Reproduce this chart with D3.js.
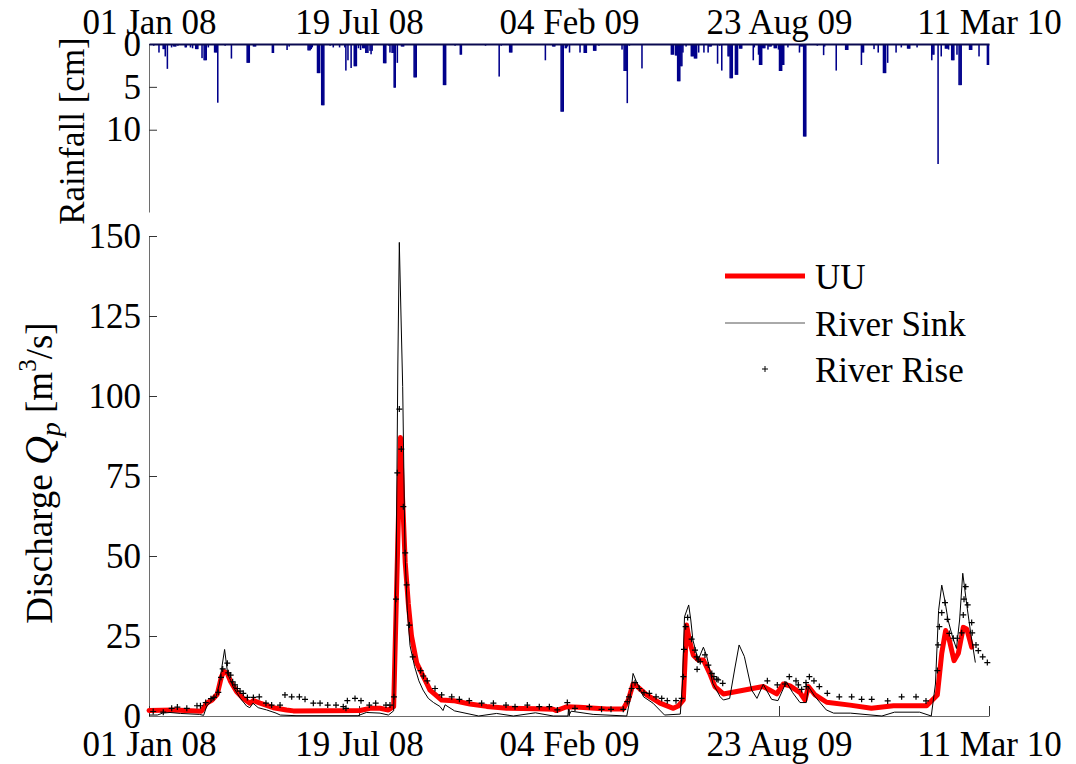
<!DOCTYPE html>
<html>
<head>
<meta charset="utf-8">
<script src="https://cdn.jsdelivr.net/npm/d3@7"></script>
<style>
  body { margin: 0; background: #fff; }
  svg { display: block; font-family: 'Liberation Serif', 'Times New Roman', serif; }
</style>
</head>
<body>
<div id="chart"></div>
<script>
// days counted from 01 Jan 2008
var tickDays = [0, 200, 400, 600, 800]
var rainTicks = [0, 5, 10]
var flowTicks = [0, 25, 50, 75, 100, 125, 150]
var legendLabels = ['UU', 'River Sink', 'River Rise']

// [day, rainfall cm]
var rainfall = [
  [4, 0.2], [9, 1.0], [13, 0.6], [14, 0.6], [15, 1.45], [17, 2.9], [21, 0.4], [23, 0.3], [24, 0.3], [25, 0.3],
  [27, 0.2], [34, 0.4], [35, 0.4], [39, 0.4], [41, 0.5], [44, 0.6], [45, 0.6], [46, 0.6], [50, 1.65], [52, 1.9],
  [53, 1.9], [54, 1.9], [56, 0.4], [62, 1.0], [63, 1.0], [64, 1.0], [65, 6.85], [72, 0.2], [78, 1.7], [88, 0.1],
  [93, 2.2], [94, 2.2], [95, 2.2], [99, 0.3], [100, 0.3], [101, 0.3], [117, 1.05], [118, 1.05], [131, 0.7], [133, 0.3],
  [151, 0.75], [152, 0.75], [153, 0.75], [154, 0.6], [155, 0.4], [160, 3.4], [161, 3.4], [162, 3.4], [164, 7.15], [165, 7.15],
  [166, 7.15], [172, 0.2], [175, 0.4], [181, 0.4], [186, 0.4], [187, 3.1], [189, 1.9], [192, 2.8], [195, 2.6], [196, 2.6],
  [197, 2.6], [199, 0.5], [201, 0.7], [203, 0.5], [204, 0.5], [205, 0.5], [206, 1.05], [207, 1.05], [208, 1.05], [210, 0.8],
  [211, 1.2], [212, 0.8], [223, 2.25], [224, 2.25], [225, 2.25], [228, 0.2], [229, 1.0], [231, 1.05], [232, 1.05], [233, 5.1],
  [234, 5.1], [236, 2.2], [240, 0.3], [241, 0.3], [242, 0.3], [252, 3.9], [253, 3.9], [254, 3.9], [280, 4.8], [281, 4.8],
  [282, 4.8], [291, 0.2], [296, 1.25], [297, 1.25], [320, 0.2], [333, 3.8], [335, 0.2], [343, 1.0], [344, 1.0], [345, 1.0],
  [377, 1.9], [384, 0.3], [385, 0.3], [386, 0.3], [392, 7.9], [393, 7.9], [394, 7.9], [396, 0.5], [397, 0.5], [398, 0.3],
  [400, 1.0], [410, 1.0], [414, 1.05], [415, 1.05], [416, 1.05], [423, 0.8], [424, 0.8], [425, 0.8], [428, 0.2], [450, 0.65],
  [452, 3.15], [453, 3.15], [454, 3.15], [455, 6.9], [457, 0.2], [469, 2.85], [478, 0.1], [497, 1.25], [498, 1.25], [499, 1.25],
  [501, 1.35], [502, 1.35], [503, 4.35], [504, 4.35], [505, 4.35], [506, 2.6], [507, 2.6], [508, 1.0], [511, 0.3], [516, 1.45],
  [517, 1.45], [518, 1.45], [519, 1.7], [520, 1.7], [521, 1.7], [523, 1.0], [528, 1.0], [532, 1.0], [533, 0.3], [534, 0.3],
  [535, 0.3], [541, 2.3], [543, 0.2], [545, 3.1], [551, 1.45], [552, 1.45], [553, 4.0], [554, 4.0], [555, 4.0], [558, 3.6],
  [559, 3.6], [560, 3.6], [562, 0.55], [563, 0.55], [564, 0.55], [575, 1.9], [576, 0.4], [580, 1.25], [581, 2.45], [582, 2.45],
  [583, 2.45], [584, 0.5], [585, 0.5], [586, 0.5], [589, 0.65], [590, 0.3], [591, 0.3], [592, 0.3], [595, 0.5], [596, 0.5],
  [597, 0.5], [599, 0.65], [600, 3.15], [601, 3.15], [602, 3.15], [603, 2.45], [604, 2.45], [608, 0.4], [619, 1.0], [620, 0.3],
  [621, 0.3], [622, 0.3], [623, 10.8], [624, 10.8], [625, 10.8], [636, 0.2], [642, 1.3], [643, 0.3], [654, 3.1], [663, 0.7],
  [664, 0.7], [665, 0.7], [678, 2.45], [679, 1.0], [680, 1.0], [690, 0.6], [694, 1.0], [699, 3.4], [700, 3.4], [701, 3.4],
  [703, 2.2], [711, 1.0], [716, 0.4], [722, 0.55], [723, 0.55], [724, 0.55], [731, 0.4], [745, 1.9], [746, 1.25], [747, 1.25],
  [751, 14.0], [754, 1.45], [758, 0.55], [759, 0.55], [760, 0.55], [761, 0.65], [764, 1.9], [765, 1.9], [766, 1.9], [769, 1.25],
  [771, 4.8], [772, 4.8], [773, 4.8], [781, 0.7], [782, 0.7], [783, 0.7], [790, 1.45], [798, 2.45], [799, 2.45]
]

// [day, discharge m3/s]
var riverSink = [
  [0, 0.3], [8, 0.3], [13, 0.9], [20, 1.1], [30, 0.8], [48, 0.5], [52, 0.2], [55, 3.1], [60, 4.8], [64, 6.2],
  [67, 10], [69, 14.4], [72, 20.8], [75, 13], [78, 11], [80, 9.2], [87, 5.5], [93, 3.1], [96, 2.6], [99, 4.0],
  [104, 2.6], [112, 1.9], [121, 0.9], [125, 0.3], [140, 0.1], [199, 0.1], [207, 1.1], [220, 0.9], [228, 0.3], [233, 1.6],
  [235.5, 50], [237, 110], [238.4, 148], [240, 125], [241.6, 103], [243.8, 51], [246, 33], [248.6, 22], [253, 15.4], [257, 11],
  [261, 8.1], [266, 5.5], [271, 4.2], [277, 3.0], [280, 1.7], [282, 3.5], [291, 1.6], [314, 0], [331, 0.8], [347, 0],
  [368, 1.0], [385, 0], [399, 0], [399.5, 2.2], [400, 0.2], [402, 1.5], [423, 0.5], [455, 0], [458, 5], [461, 13.3],
  [464, 10.9], [471, 6], [480, 4], [491, 0.3], [506, 0.6], [508, 10], [510, 31], [514, 34.7], [516, 30], [518, 23.75],
  [523, 17.5], [528, 21.5], [531, 18.9], [537, 10.2], [544, 6], [547, 5], [553, 5.5], [558, 15], [562, 22.2], [567, 18.6],
  [574, 8.1], [579, 5.5], [585, 9.9], [593, 5.2], [599, 4.8], [607, 10.7], [613, 7.3], [620, 4.2], [626, 4.2], [628, 9.2],
  [634, 6.2], [645, 1.9], [652, 0.9], [668, 0.9], [698, 0], [710, 1.2], [734, 1.2], [745, 0], [749, 10], [752, 33],
  [755, 40.9], [758, 36], [761, 30], [765, 25], [769, 21.1], [772, 30], [775, 44.6], [779, 34.3], [783, 25], [787, 16.7]
]

var uu = [
  [0, 1.7], [24, 1.9], [50, 1.5], [55, 4], [60, 5], [65, 6.8], [69, 12.3], [71.4, 13.9], [74.6, 13.3], [77.8, 10.7],
  [83.5, 7.6], [89.8, 5.5], [96, 4], [99.5, 4.8], [105.8, 4], [118.4, 2.6], [131, 1.9], [137.5, 1.6], [201, 1.7], [210.5, 2.4],
  [220, 2.4], [228, 1.9], [233, 2.9], [237, 55], [239.5, 87], [241.5, 68], [244, 48], [247, 35], [250, 25], [255, 16.5],
  [264.5, 10.2], [267.6, 8.1], [278.7, 5], [289.8, 4.8], [305.7, 3.75], [321.6, 3.0], [340.7, 2.4], [369, 2.3], [385, 2.1], [388, 1.7],
  [397.8, 2.9], [410, 2.7], [436, 2.2], [451.7, 2.2], [456.5, 5], [461, 10], [464, 9.5], [474, 6.6], [486.7, 4], [499.4, 2.4],
  [504, 3.1], [508.9, 5], [512, 28.4], [514.6, 23.75], [518.4, 19], [523, 17.5], [528, 17.5], [534, 13.3], [539, 9.2], [547, 6.9],
  [585, 9.2], [597.8, 6.9], [604, 10], [610.5, 9.4], [620, 7.3], [624.8, 5], [628, 9.2], [634, 6.7], [645.4, 4.3], [667.6, 3.4],
  [688, 2.4], [709, 3.2], [740.6, 3.2], [750.8, 6.6], [755, 19.6], [758.7, 26.7], [762.2, 23.75], [766.7, 17.3], [770.8, 19.6], [775.5, 27.7],
  [778.8, 27.2], [783.5, 21.5]
]

var riverRise = [
  [4, 1.4], [13.6, 1.2], [21.6, 2.4], [27, 2.8], [36, 2.4], [45.7, 3.2], [49, 3.2], [54, 4.2], [59, 5.4], [61.9, 5.8],
  [66, 7.4], [68.6, 12.1], [70.2, 14.7], [74.6, 16.5], [75.5, 13.5], [77.8, 12.8], [79.7, 10.7], [81.9, 9.7], [84.1, 8.6], [86.7, 7.8],
  [89.8, 7.1], [93.7, 5.8], [99.4, 5.8], [105, 6.0], [111.4, 4.0], [116.8, 3.4], [124.8, 3.4], [129.5, 6.6], [135.9, 6.0], [143.2, 6.0],
  [148.6, 5.2], [156.5, 4.0], [162.9, 4.0], [170.2, 3.4], [178.1, 3.4], [185, 2.9], [187.6, 2.4], [188.9, 4.8], [196.2, 5.5], [201.9, 4.8],
  [209.8, 3.4], [215.9, 4.0], [225.7, 3.4], [229.5, 3.4], [233.3, 6.0], [235.2, 36.5], [236.5, 76], [238.4, 95.9], [240.3, 83.4], [242.2, 65.4],
  [244, 51], [245.4, 41], [248, 28.4], [251.2, 18.5], [258.7, 14.2], [261.3, 12.5], [265, 11.0], [272.4, 8.6], [278.7, 6.6], [288.3, 6.0],
  [295.6, 5.2], [305, 4.8], [316.8, 4.0], [328, 4.0], [340, 3.4], [348.6, 2.9], [360.3, 3.4], [371.7, 2.9], [381.3, 2.9], [388.9, 1.9],
  [398.4, 4.2], [405.7, 2.4], [419.4, 2.9], [431, 2.1], [440, 2.1], [451.7, 2.1], [455.5, 4.5], [457.1, 6.0], [459.7, 8.6], [462.9, 10.4],
  [467, 8.6], [471.4, 7.3], [476.5, 7.1], [482.9, 6.0], [488.3, 5.5], [493.6, 4.8], [501.9, 4.8], [507.3, 5.5], [508.9, 12.3], [509.5, 20.8],
  [511.1, 27.9], [513, 30.8], [516.8, 24], [520, 20.6], [521.6, 18.5], [522, 14.6], [523, 17.5], [525, 17], [529.5, 19.1], [532.7, 15.9],
  [536, 13.3], [538, 12.3], [540.7, 11.5], [542, 11.3], [546.4, 10.2], [588.9, 11.0], [598.4, 9.7], [605.7, 10.0], [609.8, 12.3], [616.2, 11.0],
  [618.4, 9.7], [621.6, 8.3], [625.7, 10.4], [626, 9.2], [628.9, 12.3], [633.3, 11.0], [638.4, 9.2], [646, 7.1], [657.4, 6.0], [669.2, 6.0],
  [678.7, 5.2], [688.3, 5.2], [703.5, 4.7], [716.8, 6.0], [730.5, 6.0], [740, 4.7], [750.8, 14.2], [751.5, 22.2], [752.7, 27.9], [755, 32.3],
  [758.1, 35.4], [760.3, 30.2], [762.2, 25.8], [766, 24.3], [769.8, 24.3], [774, 26], [775.5, 31.6], [776.2, 36.5], [777.8, 40.4], [779.7, 34.7],
  [783.5, 29.2], [784, 26], [787.6, 22.2], [789.8, 20.4], [794, 18.5], [798.4, 16.7]
]

var start = Date.UTC(2008, 0, 1)
function toDate (day) {
  return new Date(start + day * 864e5)
}

var width = 1076
var height = 764
var fontSize = 35
var serif = "'Liberation Serif', 'Times New Roman', serif"
var axisGray = '#6e6e6e'

var svg = d3.select('#chart').append('svg')
  .attr('width', width)
  .attr('height', height)

var x = d3.scaleUtc().domain([toDate(0), toDate(800)]).range([149, 989])
var yRain = d3.scaleLinear().domain([0, 19.6]).range([44, 212])
var yFlow = d3.scaleLinear().domain([0, 150]).range([716, 236])
var fmt = d3.utcFormat('%d %b %y')

// d3 axes put a sans-serif family on the group, switch back to the serif face
function styleAxis (g) {
  g.attr('font-family', serif).attr('font-size', fontSize)
  g.selectAll('text').attr('fill', '#000')
  g.selectAll('line').attr('stroke', '#333')
  g.select('.domain').attr('stroke', axisGray)
}

// ---------- rainfall panel ----------
var rainPanel = svg.append('g')

rainPanel.selectAll('rect.rain')
  .data(rainfall)
  .enter().append('rect')
  .classed('rain', true)
  .attr('x', function (d) { return x(toDate(d[0])) - 0.25 })
  .attr('width', function (d) { return x(toDate(d[0] + 1)) - x(toDate(d[0])) + 0.5 })
  .attr('y', yRain(0))
  .attr('height', function (d) { return yRain(d[1]) - yRain(0) })
  .attr('fill', '#00008b')

rainPanel.append('g')
  .attr('transform', 'translate(149,0)')
  .call(d3.axisLeft(yRain).tickValues(rainTicks).tickSizeInner(-8).tickSizeOuter(0).tickPadding(8))
  .call(styleAxis)

rainPanel.append('g')
  .attr('transform', 'translate(0,' + yRain(0) + ')')
  .call(d3.axisTop(x).tickValues(tickDays.map(toDate)).tickFormat(fmt).tickSize(0).tickPadding(10))
  .call(styleAxis)
  .call(function (g) { g.select('.domain').attr('stroke', '#0a0a50').attr('stroke-width', 2) })

rainPanel.append('text')
  .attr('transform', 'translate(84,' + ((40 + 222) / 2) + ') rotate(-90)')
  .attr('text-anchor', 'middle')
  .style('font-size', '35px')
  .text('Rainfall [cm]')

// ---------- discharge panel ----------
var flowPanel = svg.append('g')

flowPanel.append('g')
  .attr('transform', 'translate(149,0)')
  .call(d3.axisLeft(yFlow).tickValues(flowTicks).tickSizeInner(-8).tickSizeOuter(0).tickPadding(8))
  .call(styleAxis)

flowPanel.append('g')
  .attr('transform', 'translate(0,' + yFlow(0) + ')')
  .call(d3.axisBottom(x).tickValues(tickDays.map(toDate)).tickFormat(fmt).tickSizeInner(-10).tickSizeOuter(0).tickPadding(15))
  .call(styleAxis)

var line = d3.line()
  .x(function (d) { return x(toDate(d[0])) })
  .y(function (d) { return yFlow(d[1]) })

flowPanel.append('path')
  .datum(uu)
  .attr('d', line)
  .attr('fill', 'none')
  .attr('stroke', '#ff0000')
  .attr('stroke-width', 5)
  .attr('stroke-linejoin', 'round')
  .attr('stroke-linecap', 'round')

flowPanel.append('path')
  .datum(riverSink)
  .attr('d', line)
  .attr('fill', 'none')
  .attr('stroke', '#000')
  .attr('stroke-width', 1)

var plus = 'M-3,0H3M0,-3V3'

flowPanel.selectAll('path.rise')
  .data(riverRise)
  .enter().append('path')
  .classed('rise', true)
  .attr('transform', function (d) {
    return 'translate(' + x(toDate(d[0])) + ',' + yFlow(d[1]) + ')'
  })
  .attr('d', plus)
  .attr('stroke', '#000')
  .attr('stroke-width', 1.2)

// y label with italic Q and sub/superscripts
var ylab = flowPanel.append('text')
  .attr('transform', 'translate(52,473) rotate(-90)')
  .attr('text-anchor', 'middle')
  .style('font-size', '37px')
ylab.append('tspan').text('Discharge ')
ylab.append('tspan').style('font-style', 'italic').style('font-size', '40px').text('Q')
ylab.append('tspan').style('font-style', 'italic').style('font-size', '28px').attr('dy', 8).text('p')
ylab.append('tspan').attr('dy', -8).text(' [m')
ylab.append('tspan').style('font-size', '25px').attr('dy', -16).text('3')
ylab.append('tspan').attr('dy', 16).text('/s]')

// ---------- legend ----------
var legend = svg.append('g')
var legendY = [276, 323, 369]

legend.append('line')
  .attr('x1', 725).attr('x2', 805)
  .attr('y1', legendY[0]).attr('y2', legendY[0])
  .attr('stroke', '#ff0000').attr('stroke-width', 5)

legend.append('line')
  .attr('x1', 725).attr('x2', 805)
  .attr('y1', legendY[1]).attr('y2', legendY[1])
  .attr('stroke', '#555').attr('stroke-width', 1)

legend.append('path')
  .attr('transform', 'translate(765,' + legendY[2] + ')')
  .attr('d', plus)
  .attr('stroke', '#000')

legend.selectAll('text')
  .data(legendLabels)
  .enter().append('text')
  .attr('x', 815)
  .attr('y', function (d, i) { return legendY[i] + 13 })
  .style('font-size', '35px')
  .text(function (d) { return d })
</script>
</body>
</html>
